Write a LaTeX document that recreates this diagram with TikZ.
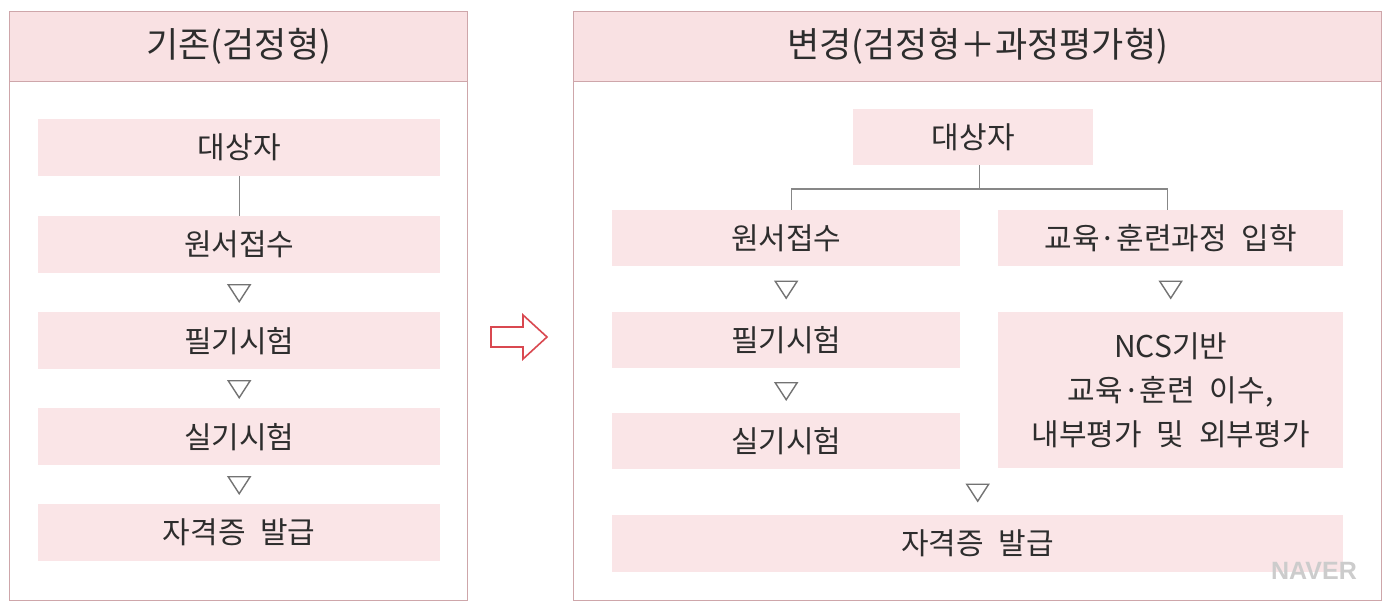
\documentclass[tikz,border=0pt]{standalone}
\usepackage{fontspec}
\newfontfamily\kr[WordSpace=2.2]{Noto Sans CJK KR}
\newfontfamily\wm{Liberation Sans}
\usetikzlibrary{calc}
\definecolor{boxc}{RGB}{250,229,231}
\definecolor{headc}{RGB}{249,225,227}
\definecolor{bordc}{RGB}{206,166,170}
\definecolor{txtc}{RGB}{45,45,45}
\definecolor{linec}{RGB}{135,135,135}
\definecolor{tric}{RGB}{115,115,115}
\definecolor{arrc}{RGB}{217,72,80}
\newcommand\downtri[1]{\draw[tristyle] ($(#1)+(-11,-8)$) -- ($(#1)+(11,-8)$) -- ($(#1)+(0,9)$) -- cycle;}
\begin{document}
\begin{tikzpicture}[x=1pt,y=-1pt,
  panel/.style={draw=bordc, line width=1.4pt, fill=white, inner sep=0pt, anchor=north west},
  head/.style={draw=bordc, line width=1.4pt, fill=headc, inner sep=0pt, anchor=north west,
     text=txtc, font=\kr\fontsize{35}{40}\selectfont},
  box/.style={fill=boxc, inner sep=0pt, anchor=north west, text=txtc, align=center,
     font=\kr\fontsize{30}{44}\selectfont},
  conn/.style={draw=linec, line width=1.4pt},
  tristyle/.style={draw=tric, line width=1.4pt, line join=miter},
  bigarrow/.style={draw=arrc, line width=1.6pt, fill=white, line join=miter}]
\useasboundingbox (0,0) rectangle (1390,608);
\fill[white] (0,0) rectangle (1390,608);

% left panel
\node[panel, minimum width=458pt, minimum height=589pt] (P1) at (9,11) {};
\node[head, minimum width=458pt, minimum height=70pt] (H1) at (9,11) {기존(검정형)};
\node[box, minimum width=402pt, minimum height=57pt] (d1) at (38,119) {대상자};
\node[box, minimum width=402pt, minimum height=57pt] (w1) at (38,216) {원서접수};
\node[box, minimum width=402pt, minimum height=57pt] (p1) at (38,312) {필기시험};
\node[box, minimum width=402pt, minimum height=57pt] (s1) at (38,408) {실기시험};
\node[box, minimum width=402pt, minimum height=57pt] (c1) at (38,504) {자격증 발급};
\draw[conn] (d1.south) -- (w1.north);
\downtri{$(w1.south)!0.5!(p1.north)$}
\downtri{$(p1.south)!0.5!(s1.north)$}
\downtri{$(s1.south)!0.5!(c1.north)$}

% big arrow
\draw[bigarrow] (491,327) -- (523,327) -- (523,315) -- (547,337) -- (523,359) -- (523,347) -- (491,347) -- cycle;

% right panel
\node[panel, minimum width=808pt, minimum height=589pt] (P2) at (573,11) {};
\node[head, minimum width=808pt, minimum height=70pt] (H2) at (573,11) {변경(검정형＋과정평가형)};
\node[box, minimum width=240pt, minimum height=56pt] (d2) at (853,109) {대상자};
\node[box, minimum width=348pt, minimum height=56pt] (w2) at (612,210) {원서접수};
\node[box, minimum width=348pt, minimum height=56pt] (p2) at (612,312) {필기시험};
\node[box, minimum width=348pt, minimum height=56pt] (s2) at (612,413) {실기시험};
\node[box, minimum width=345pt, minimum height=56pt] (e2) at (998,210) {교육·훈련과정 입학};
\node[box, minimum width=345pt, minimum height=156pt] (n2) at (998,312) {NCS기반\\교육·훈련 이수,\\내부평가 및 외부평가};
\node[box, minimum width=731pt, minimum height=57pt] (c2) at (612,515) {자격증 발급};

\coordinate (root) at ($(d2.south)+(6,0)$);
\coordinate (jl) at ($(w2.north)+(5,-21)$);
\coordinate (jr) at ($(e2.north)+(-3,-21)$);
\draw[conn] (root) |- (jl) -- (jl |- w2.north);
\draw[conn] (root) |- (jr) -- (jr |- e2.north);

\downtri{$(w2.south)!0.5!(p2.north)$}
\downtri{$(p2.south)!0.5!(s2.north)$}
\downtri{$(e2.south)!0.5!(n2.north)$}
\downtri{$(s2.south -| c2.north)!0.5!(c2.north)$}

% watermark
\node[text=white!80!black, font=\wm\bfseries\fontsize{25}{25}\selectfont, inner sep=0pt] (nv) at (1314,571) {NAVER};
\end{tikzpicture}
\end{document}
